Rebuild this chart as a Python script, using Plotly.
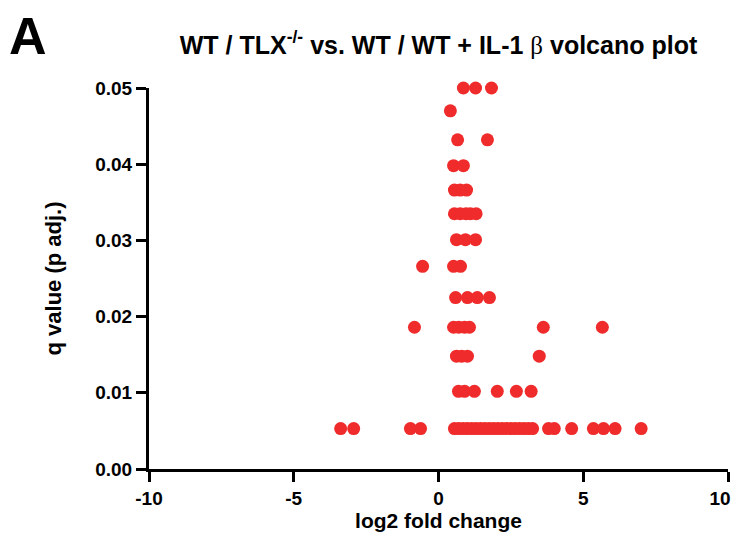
import plotly.graph_objects as go

# q value rows and log2 fold change of each gene within the row
row_q = [0.0500, 0.0470, 0.0432, 0.0398, 0.0366, 0.0335, 0.0301,
         0.0266, 0.0225, 0.0186, 0.0148, 0.0102, 0.0053]
row_fc = [
    [0.86, 1.28, 1.83],
    [0.41],
    [0.66, 1.69],
    [0.52, 0.86],
    [0.55, 0.75, 0.97],
    [0.55, 0.75, 0.95, 1.10, 1.30],
    [0.62, 0.93, 1.28],
    [-0.55, 0.52, 0.76],
    [0.59, 1.00, 1.34, 1.76],
    [-0.83, 0.52, 0.70, 0.90, 1.07, 3.62, 5.66],
    [0.62, 0.80, 1.00, 3.48],
    [0.69, 0.90, 1.24, 2.03, 2.69, 3.20],
    [-3.38, -2.93, -0.97, -0.62, 0.55, 0.70, 0.85, 1.00, 1.15, 1.30, 1.45,
     1.60, 1.75, 1.90, 2.05, 2.20, 2.35, 2.50, 2.65, 2.80, 2.95, 3.10, 3.25,
     3.80, 4.00, 4.60, 5.35, 5.70, 6.10, 7.00],
]

x_ticks = [-10, -5, 0, 5, 10]
y_ticks = [0.00, 0.01, 0.02, 0.03, 0.04, 0.05]

log2fc = [v for row in row_fc for v in row]
qval = [q for q, row in zip(row_q, row_fc) for _ in row]

FONT = "Liberation Sans, Arial, sans-serif"
W, H = 732, 527  # page body adds an 8px margin; keep page from scrolling

# last x tick label nudged left so it is not cut at the window edge
x_ticktext = [f"<b>{t}</b>" for t in x_ticks]
x_ticktext[-1] = x_ticktext[-1] + "&nbsp;&nbsp;&nbsp;"

fig = go.Figure(go.Scatter(
    x=log2fc, y=qval, mode="markers",
    marker=dict(color="#EF2B2B", size=13, line=dict(width=0)),
    cliponaxis=False,
))

fig.update_layout(
    width=W, height=H, autosize=False,
    margin=dict(l=141, r=12, t=80, b=H - 80 - 381),
    paper_bgcolor="white", plot_bgcolor="white",
    showlegend=False,
    font=dict(family=FONT, color="black"),
    title=dict(
        text="<b>WT / TLX<sup>-/-</sup> vs. WT / WT + IL-1 </b>"
             "<span style='font-family:Liberation Serif, serif'>β</span>"
             "<b> volcano plot</b>",
        x=0.5, xref="paper", xanchor="center",
        y=1 - 37 / H, yref="container", yanchor="middle",
        font=dict(size=25, family=FONT, color="black"),
    ),
    annotations=[dict(
        text="<b>A</b>", xref="paper", yref="paper",
        x=-0.245, y=1.137, xanchor="left", yanchor="middle",
        showarrow=False, font=dict(size=52, family=FONT, color="black"),
    )],
)

fig.update_xaxes(
    range=[-10, 10], tickvals=x_ticks, ticktext=x_ticktext,
    ticklabeloverflow="allow",
    showgrid=False, zeroline=False, automargin=False,
    showline=True, linecolor="black", linewidth=3,
    ticks="outside", ticklen=10, tickwidth=3, tickcolor="black",
    tickfont=dict(size=19, family=FONT, color="black"),
    title=dict(text="<b>log2 fold change</b>", standoff=6,
               font=dict(size=21, family=FONT, color="black")),
)
fig.update_yaxes(
    range=[0, 0.05], tickvals=y_ticks,
    ticktext=[f"<b>{t:.2f}</b>" for t in y_ticks],
    showgrid=False, zeroline=False, automargin=False,
    showline=True, linecolor="black", linewidth=3,
    ticks="outside", ticklen=10, tickwidth=3, tickcolor="black",
    tickfont=dict(size=19, family=FONT, color="black"),
    title=dict(text="<b>q value (p adj.)</b>", standoff=28,
               font=dict(size=22, family=FONT, color="black")),
)

fig.write_html("out.html")
